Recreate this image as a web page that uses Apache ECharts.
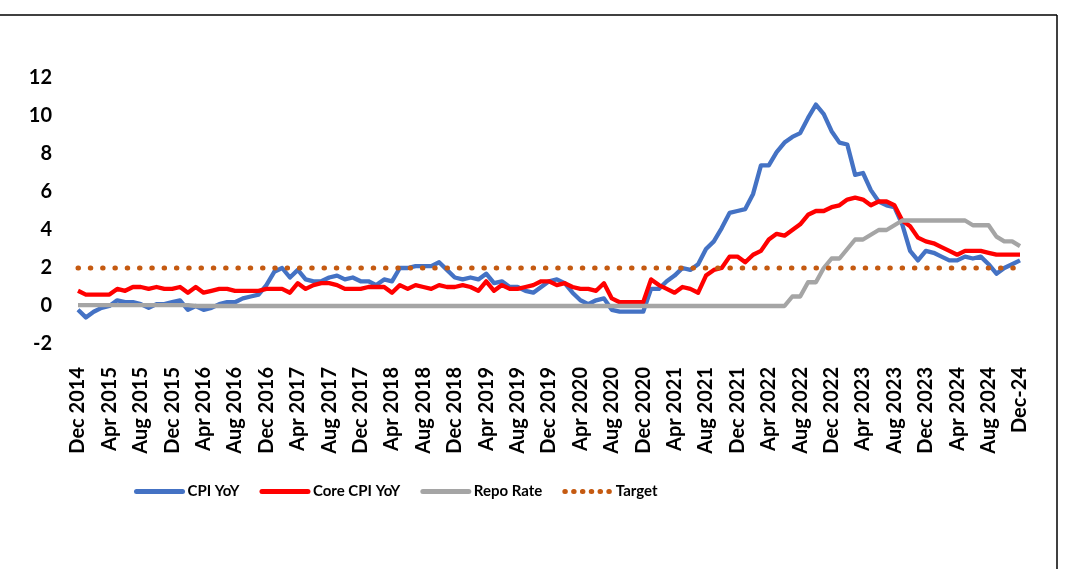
<!DOCTYPE html>
<html>
<head>
<meta charset="utf-8">
<script src="https://cdn.jsdelivr.net/npm/echarts@6/dist/echarts.min.js"></script>
<style>
html,body{margin:0;padding:0;background:#fff;}
#chart{width:1067px;height:569px;}
</style>
</head>
<body>
<div id="chart"></div>
<script>
// Months Dec 2014 .. Dec 2024
const monthNames = ['Jan','Feb','Mar','Apr','May','Jun','Jul','Aug','Sep','Oct','Nov','Dec'];
const categories = [];
for (let y = 2014; y <= 2024; y++) {
  for (let m = 0; m < 12; m++) {
    if (y === 2014 && m < 11) continue;
    categories.push(monthNames[m] + ' ' + y);
  }
}
categories[categories.length - 1] = 'Dec-24';

const cpiYoY = [
  -0.2,
  -0.6,-0.3,-0.1,0.0,0.3,0.2,0.2,0.1,-0.1,0.1,0.1,0.2,
  0.3,-0.2,0.0,-0.2,-0.1,0.1,0.2,0.2,0.4,0.5,0.6,1.1,
  1.8,2.0,1.5,1.9,1.4,1.3,1.3,1.5,1.6,1.4,1.5,1.3,
  1.3,1.1,1.4,1.3,2.0,2.0,2.1,2.1,2.1,2.3,1.9,1.5,
  1.4,1.5,1.4,1.7,1.2,1.3,1.0,1.0,0.8,0.7,1.0,1.3,
  1.4,1.2,0.7,0.3,0.1,0.3,0.4,-0.2,-0.3,-0.3,-0.3,-0.3,
  0.9,0.9,1.3,1.6,2.0,1.9,2.2,3.0,3.4,4.1,4.9,5.0,
  5.1,5.9,7.4,7.4,8.1,8.6,8.9,9.1,9.9,10.6,10.1,9.2,
  8.6,8.5,6.9,7.0,6.1,5.5,5.3,5.2,4.3,2.9,2.4,2.9,
  2.8,2.6,2.4,2.4,2.6,2.5,2.6,2.2,1.7,2.0,2.2,2.4
];
const coreCpiYoY = [
  0.8,
  0.6,0.6,0.6,0.6,0.9,0.8,1.0,1.0,0.9,1.0,0.9,0.9,
  1.0,0.7,1.0,0.7,0.8,0.9,0.9,0.8,0.8,0.8,0.8,0.9,
  0.9,0.9,0.7,1.2,0.9,1.1,1.2,1.2,1.1,0.9,0.9,0.9,
  1.0,1.0,1.0,0.7,1.1,0.9,1.1,1.0,0.9,1.1,1.0,1.0,
  1.1,1.0,0.8,1.3,0.8,1.1,0.9,0.9,1.0,1.1,1.3,1.3,
  1.1,1.2,1.0,0.9,0.9,0.8,1.2,0.4,0.2,0.2,0.2,0.2,
  1.4,1.1,0.9,0.7,1.0,0.9,0.7,1.6,1.9,2.0,2.6,2.6,
  2.3,2.7,2.9,3.5,3.8,3.7,4.0,4.3,4.8,5.0,5.0,5.2,
  5.3,5.6,5.7,5.6,5.3,5.5,5.5,5.3,4.5,4.2,3.6,3.4,
  3.3,3.1,2.9,2.7,2.9,2.9,2.9,2.8,2.7,2.7,2.7,2.7
];
const repoRate = [
  0.05,
  0.05,0.05,0.05,0.05,0.05,0.05,0.05,0.05,0.05,0.05,0.05,0.05,
  0.05,0.05,0,0,0,0,0,0,0,0,0,0,
  0,0,0,0,0,0,0,0,0,0,0,0,
  0,0,0,0,0,0,0,0,0,0,0,0,
  0,0,0,0,0,0,0,0,0,0,0,0,
  0,0,0,0,0,0,0,0,0,0,0,0,
  0,0,0,0,0,0,0,0,0,0,0,0,
  0,0,0,0,0,0,0.5,0.5,1.25,1.25,2.0,2.5,
  2.5,3.0,3.5,3.5,3.75,4.0,4.0,4.25,4.5,4.5,4.5,4.5,
  4.5,4.5,4.5,4.5,4.5,4.25,4.25,4.25,3.65,3.4,3.4,3.15
];
const targetRate = categories.map(() => 2);
const yTicks = { min: -2, max: 12, interval: 2 };

const FONT = 'Lato, "Liberation Sans", sans-serif';
const chart = echarts.init(document.getElementById('chart'), null, { renderer: 'canvas' });
chart.setOption({
  backgroundColor: '#ffffff',
  animation: false,
  textStyle: { fontFamily: FONT },
  grid: { left: 78, right: 47, top: 78, bottom: 225 },
  legend: {
    left: 134, top: 484, padding: 0,
    itemWidth: 46, itemHeight: 16, itemGap: 20,
    itemStyle: { opacity: 0 },
    lineStyle: { width: 5, cap: 'round' },
    textStyle: { fontFamily: FONT, fontWeight: 'bold', fontSize: 15, color: '#000' },
    data: [
      { name: 'CPI YoY' },
      { name: 'Core CPI YoY' },
      { name: 'Repo Rate' },
      { name: 'Target', lineStyle: { width: 5, type: [0.5, 8.3], cap: 'round' } }
    ]
  },
  xAxis: {
    type: 'category',
    data: categories,
    boundaryGap: false,
    axisLine: { show: false },
    axisTick: { show: false },
    axisLabel: {
      interval: 3, rotate: 90, margin: 23,
      fontFamily: FONT, fontWeight: 'bold', fontSize: 20, color: '#000'
    }
  },
  yAxis: {
    type: 'value',
    min: yTicks.min, max: yTicks.max, interval: yTicks.interval,
    splitLine: { show: false },
    axisLine: { show: false },
    axisTick: { show: false },
    axisLabel: { margin: 26, fontFamily: FONT, fontWeight: 'bold', fontSize: 20, color: '#000' }
  },
  series: [
    { name: 'CPI YoY', type: 'line', data: cpiYoY, symbol: 'none', color: '#4472C4',
      lineStyle: { width: 4.3, color: '#4472C4', join: 'round' } },
    { name: 'Core CPI YoY', type: 'line', data: coreCpiYoY, symbol: 'none', color: '#FF0000',
      lineStyle: { width: 4.3, color: '#FF0000', join: 'round' } },
    { name: 'Repo Rate', type: 'line', data: repoRate, symbol: 'none', color: '#A5A5A5',
      lineStyle: { width: 4.3, color: '#A5A5A5', join: 'round' } },
    { name: 'Target', type: 'line', data: targetRate, symbol: 'none', color: '#C55A11',
      lineStyle: { width: 5, color: '#C55A11', type: [0.5, 11.8], cap: 'round' } }
  ],
  graphic: [
    { type: 'line', shape: { x1: 0, y1: 15, x2: 1057, y2: 15 }, style: { stroke: '#000', lineWidth: 1.5 } },
    { type: 'line', shape: { x1: 1057, y1: 15, x2: 1057, y2: 569 }, style: { stroke: '#000', lineWidth: 1.5 } }
  ]
});
</script>
</body>
</html>
